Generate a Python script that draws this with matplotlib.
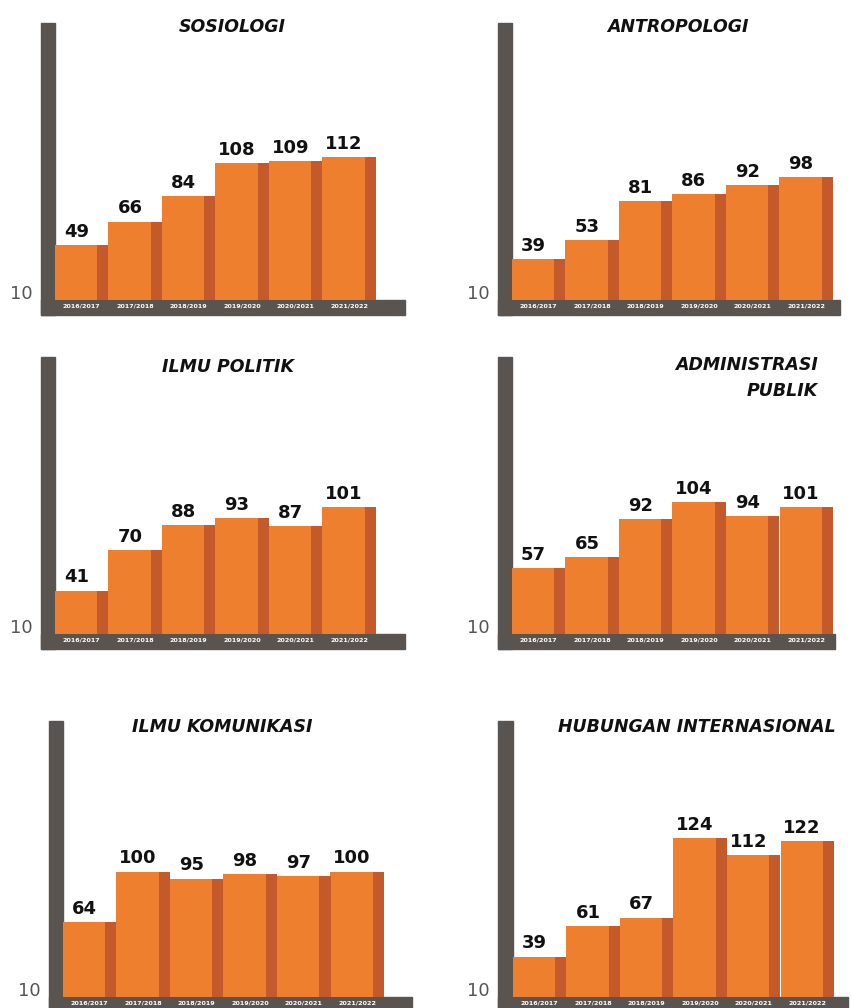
import numpy as np
import matplotlib.pyplot as plt
from matplotlib.patches import Rectangle

W, H = 853, 1008

years = ['2016/2017', '2017/2018', '2018/2019', '2019/2020', '2020/2021', '2021/2022']
sosiologi = [49, 66, 84, 108, 109, 112]
antropologi = [39, 53, 81, 86, 92, 98]
ilmu_politik = [41, 70, 88, 93, 87, 101]
administrasi_publik = [57, 65, 92, 104, 94, 101]
ilmu_komunikasi = [64, 100, 95, 98, 97, 100]
hubungan_internasional = [39, 61, 67, 124, 112, 122]

titles = ['SOSIOLOGI', 'ANTROPOLOGI', 'ILMU POLITIK', 'ADMINISTRASI\nPUBLIK',
          'ILMU KOMUNIKASI', 'HUBUNGAN INTERNASIONAL']
series = [sosiologi, antropologi, ilmu_politik, administrasi_publik,
          ilmu_komunikasi, hubungan_internasional]

ORANGE = '#EE7F2E'
SIDE = '#C4592B'
FRAME = '#5A5451'

# panel frames in pixels: frame left, bars left, frame right, top, baseline
layout = [
    (41, 55, 405, 23, 300),
    (498, 512, 840, 23, 300),
    (41, 55, 405, 357, 634),
    (498, 512, 835, 357, 634),
    (49, 63, 412, 721, 997),
    (498, 513, 848, 721, 997),
]
# title anchor (x, y, ha) in pixels
title_pos = [
    (232, 27, 'center'),
    (678, 27, 'center'),
    (228, 367, 'center'),
    (818, 378, 'right'),
    (222, 727, 'center'),
    (697, 727, 'center'),
]
bar_px = 53.5
bottom_h = 15


def fx(x):
    return x / W


def fy(y):
    return 1 - y / H


fig = plt.figure(figsize=(W / 100, H / 100), dpi=100)

for vals, title, (fl, bl, fr, top, base), (tx, ty, tha) in zip(series, titles, layout, title_pos):
    # dark frame: vertical post + bottom bar (behind the axes so year labels show)
    fig.patches.append(Rectangle((fx(fl), fy(base + bottom_h)), fx(bl - fl), (base + bottom_h - top) / H,
                                 transform=fig.transFigure, color=FRAME, zorder=-1))
    fig.patches.append(Rectangle((fx(fl), fy(base + bottom_h)), fx(fr - fl), bottom_h / H,
                                 transform=fig.transFigure, color=FRAME, zorder=-1))

    ax = fig.add_axes([fx(bl), fy(base), fx(fr - bl), (base - top) / H])
    ax.set_axis_off()
    ax.set_xlim(0, (fr - bl) / bar_px)
    ax.set_ylim(10, 208)

    x = np.arange(len(vals))
    ax.bar(x, vals, width=0.79, align='edge', color=ORANGE, linewidth=0)
    ax.bar(x + 0.79, vals, width=0.21, align='edge', color=SIDE, linewidth=0)

    for i, v in enumerate(vals):
        ax.annotate(str(v), xy=(i + 0.4, v), xytext=(0, 3), textcoords='offset points',
                    ha='center', va='bottom', fontsize=13, fontweight='bold', color='#111111')
        ax.annotate(years[i], xy=(i + 0.5, 0), xycoords=('data', 'axes fraction'),
                    xytext=(0, -6), textcoords='offset pixels', ha='center', va='center',
                    fontsize=4.6, fontweight='bold', color='white', annotation_clip=False)

    fig.text(fx(tx), fy(ty), title, ha=tha, va='center', multialignment='right',
             fontsize=12.5, fontweight='bold', fontstyle='italic', color='#111111', linespacing=1.5)
    fig.text(fx(fl - 8), fy(base - 1), '10', ha='right', va='baseline',
             fontsize=13, color='#555555')

fig.savefig('out.png', dpi=100, facecolor='white')
